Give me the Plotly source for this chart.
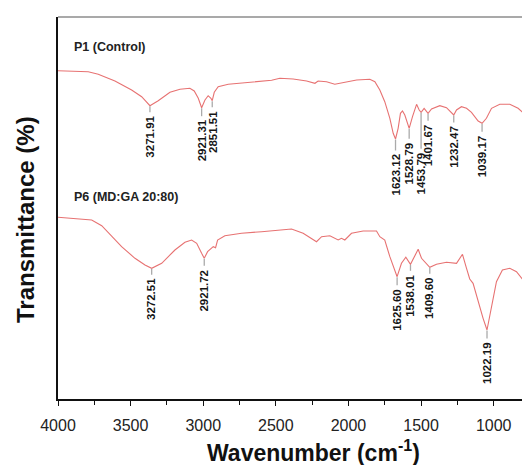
import numpy as np
import plotly.graph_objects as go

# ---------------- data ----------------
wn_p1 = [4000, 3792, 3723, 3608, 3493, 3424, 3367, 3310, 3229, 3160, 3092, 3062, 3034, 3011,
         2988, 2966, 2947, 2938, 2924, 2897, 2828, 2690, 2529, 2472, 2381, 2288, 2231, 2209,
         2151, 2094, 2048, 2013, 1944, 1853, 1818, 1784, 1750, 1715, 1692, 1676, 1658, 1642,
         1628, 1612, 1582, 1559, 1531, 1513, 1500, 1479, 1463, 1452, 1428, 1371, 1325, 1291,
         1275, 1256, 1222, 1187, 1153, 1107, 1080, 1050, 1015, 958, 889, 832, 774, 752]
t_p1 = [328.3, 327.3, 324.7, 318.0, 309.0, 302.3, 293.3, 298.3, 306.7, 309.7, 310.7, 308.0, 300.7, 291.3,
        299.0, 303.3, 300.7, 298.3, 306.7, 312.3, 314.7, 316.7, 318.7, 320.7, 320.0, 318.0, 315.7, 318.0,
        317.3, 314.7, 316.0, 317.3, 319.0, 319.7, 317.3, 309.0, 297.3, 280.7, 265.7, 260.0, 270.7, 285.7,
        288.0, 284.0, 270.7, 282.3, 294.7, 289.0, 286.7, 290.7, 288.0, 285.7, 290.0, 293.3, 291.3, 286.7,
        284.0, 289.0, 292.3, 290.7, 286.7, 278.0, 275.7, 280.7, 290.7, 294.7, 294.7, 290.7, 284.0, 280.7]

wn_p6 = [4000, 3883, 3768, 3699, 3630, 3562, 3470, 3401, 3355, 3286, 3195, 3126, 3080, 3045,
         3011, 2993, 2970, 2931, 2915, 2901, 2851, 2736, 2598, 2472, 2392, 2312, 2220, 2185,
         2128, 2071, 2048, 2025, 1979, 1899, 1807, 1784, 1750, 1715, 1681, 1665, 1635, 1605,
         1573, 1543, 1520, 1497, 1463, 1440, 1394, 1325, 1256, 1215, 1187, 1165, 1142, 1107,
         1073, 1046, 1015, 981, 940, 889, 843, 798, 752]
t_p6 = [181.7, 180.7, 179.0, 173.3, 162.3, 152.3, 140.7, 134.0, 130.7, 135.7, 149.0, 156.7, 159.0, 155.7,
        145.7, 140.7, 147.3, 152.3, 151.3, 159.0, 163.3, 165.7, 167.3, 169.0, 170.0, 165.7, 157.3, 162.3,
        163.3, 159.0, 160.7, 159.0, 165.7, 168.0, 168.0, 162.3, 159.0, 142.3, 127.3, 122.3, 135.7, 141.7,
        134.7, 144.0, 149.7, 140.7, 134.7, 131.7, 134.7, 136.7, 135.7, 144.7, 130.7, 120.0, 115.7, 97.3,
        80.7, 69.0, 90.7, 117.3, 129.0, 130.7, 127.3, 119.0, 114.0]

series_names = ["P1 (Control)", "P6 (MD:GA 20:80)"]

peaks_p1_wn = [3367, 3011, 2938, 1676, 1582, 1500, 1452, 1275, 1080]
peaks_p1_lbl = ["3271.91", "2921.31", "2851.51", "1623.12", "1528.79",
                "1453.79", "1401.67", "1232.47", "1039.17"]
peaks_p6_wn = [3355, 2993, 1665, 1573, 1440, 1046]
peaks_p6_lbl = ["3272.51", "2921.72", "1625.60", "1538.01", "1409.60", "1022.19"]

x_ticks = [4000, 3500, 3000, 2500, 2000, 1500, 1000]

# ---------------- style ----------------
FONT = "Liberation Sans, Arial, sans-serif"
LINE_COLOR = "#e77272"
stem_p1 = [8, 10, 8, 13, 12, 38, 9, 9, 10]
stem_p6 = [8, 9, 10, 8, 8, 10]

fig = go.Figure()
for wn, t, name in [(wn_p1, t_p1, series_names[0]), (wn_p6, t_p6, series_names[1])]:
    fig.add_trace(go.Scatter(x=wn, y=t, mode="lines", name=name,
                             line=dict(color=LINE_COLOR, width=1.1), showlegend=False))

shapes = []
annotations = []
for wn, t, pw, pl, stems in [(wn_p1, t_p1, peaks_p1_wn, peaks_p1_lbl, stem_p1),
                             (wn_p6, t_p6, peaks_p6_wn, peaks_p6_lbl, stem_p6)]:
    yy = np.interp(pw, wn[::-1], t[::-1])
    for x, y, lbl, s in zip(pw, yy, pl, stems):
        shapes.append(dict(type="line", xref="x", yref="y", x0=x, x1=x, y0=y - 0.5, y1=y - (s - 1.5),
                           line=dict(color="#aaaaaa", width=1.3)))
        annotations.append(dict(x=x, y=y, xref="x", yref="y", text="<b>" + lbl + "</b>", showarrow=False,
                                textangle=-90, xanchor="center", yanchor="top", yshift=-s,
                                font=dict(family=FONT, size=11.5, color="#151515")))

# sample labels
annotations.append(dict(x=0.03, y=0.9215, xref="paper", yref="paper", text="<b>" + series_names[0] + "</b>",
                        showarrow=False, xanchor="left", yanchor="middle",
                        font=dict(family=FONT, size=12.5, color="#222222")))
annotations.append(dict(x=0.03, y=0.529, xref="paper", yref="paper", text="<b>" + series_names[1] + "</b>",
                        showarrow=False, xanchor="left", yanchor="middle",
                        font=dict(family=FONT, size=12.5, color="#222222")))
# axis titles
annotations.append(dict(x=0.542, y=-0.137, xref="paper", yref="paper",
                        text="<b>Wavenumber (cm<sup>-1</sup>)</b>", showarrow=False,
                        xanchor="center", yanchor="middle",
                        font=dict(family=FONT, size=23, color="#111111")))
annotations.append(dict(x=-0.07, y=0.471, xref="paper", yref="paper",
                        text="<b>Transmittance (%)</b>", showarrow=False, textangle=-90,
                        xanchor="center", yanchor="middle",
                        font=dict(family=FONT, size=24, color="#111111")))

# top frame line (grey)
shapes.append(dict(type="line", xref="paper", yref="paper", x0=0, x1=1, y0=1, y1=1,
                   line=dict(color="#8c8c8c", width=1.3)))

# the page body adds an 8px offset, so the margins compensate for it
fig.update_layout(
    width=530, height=465,
    margin=dict(l=50, r=8, t=9, b=74),
    paper_bgcolor="white", plot_bgcolor="white",
    shapes=shapes, annotations=annotations,
    font=dict(family=FONT, color="#222222"),
    xaxis=dict(range=[4000, 750], tickvals=x_ticks, ticktext=[str(v) for v in x_ticks],
               ticks="outside", ticklen=5, tickwidth=1.3, tickcolor="#111111",
               ticklabelstandoff=6,
               showline=True, linecolor="#111111", linewidth=1.5, showgrid=False, zeroline=False,
               tickfont=dict(family=FONT, size=16, color="#222222"),
               minor=dict(tickvals=[3750, 3250, 2750, 2250, 1750, 1250, 750], ticks="outside",
                          ticklen=4, tickwidth=1.2, tickcolor="#111111")),
    yaxis=dict(range=[0, 382], showticklabels=False, ticks="", showline=True,
               linecolor="#111111", linewidth=1.5, showgrid=False, zeroline=False),
)

fig.write_html("out.html")
